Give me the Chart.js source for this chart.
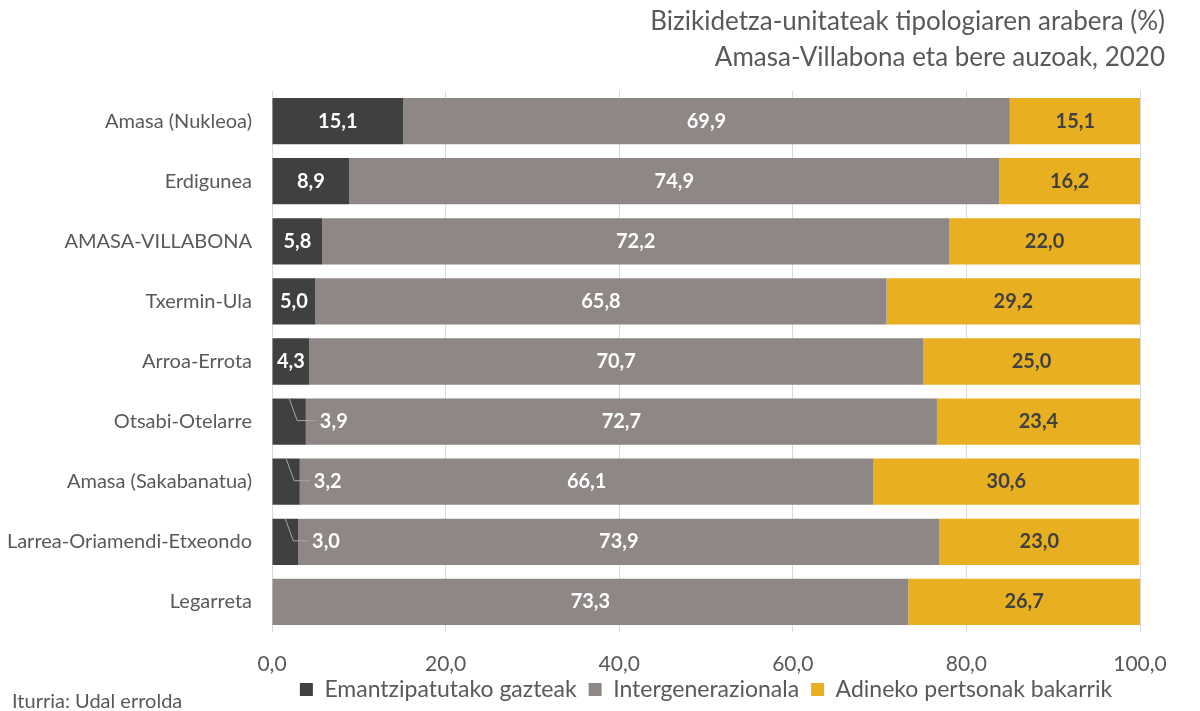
<!DOCTYPE html>
<html>
<head>
<meta charset="utf-8">
<script src="https://cdn.jsdelivr.net/npm/chart.js@4"></script>
<style>
  html, body { margin: 0; padding: 0; background: #fff; }
  #wrap { width: 1200px; height: 711px; position: relative; }
</style>
</head>
<body>
<div id="wrap"><canvas id="myChart" width="1200" height="711"></canvas></div>
<script>
// auzoak
const labels = [
  'Amasa (Nukleoa)',
  'Erdigunea',
  'AMASA-VILLABONA',
  'Txermin-Ula',
  'Arroa-Errota',
  'Otsabi-Otelarre',
  'Amasa (Sakabanatua)',
  'Larrea-Oriamendi-Etxeondo',
  'Legarreta'
];
// datuak (%)
const gazteak = [15.1, 8.9, 5.8, 5.0, 4.3, 3.9, 3.2, 3.0, 0];
const intergen = [69.9, 74.9, 72.2, 65.8, 70.7, 72.7, 66.1, 73.9, 73.3];
const adineko = [15.1, 16.2, 22.0, 29.2, 25.0, 23.4, 30.6, 23.0, 26.7];
const xTicks = [0, 20, 40, 60, 80, 100];
const titleLines = ['Bizikidetza-unitateak tipologiaren arabera (%)', 'Amasa-Villabona eta bere auzoak, 2020'];

const FONT = 'Lato';
const GREY_TXT = '#595959';
const fmt = v => v.toFixed(1).replace('.', ',');

// balioak barren barruan marraztu
const valueLabels = {
  id: 'valueLabels',
  afterDatasetsDraw(chart) {
    const ctx = chart.ctx;
    ctx.save();
    ctx.font = 'bold 20px ' + FONT;
    ctx.textBaseline = 'middle';
    chart.data.datasets.forEach((ds, di) => {
      const meta = chart.getDatasetMeta(di);
      meta.data.forEach((bar, i) => {
        const v = ds.data[i];
        if (!v) return;
        const left = bar.base, right = bar.x;
        const txt = fmt(v);
        const w = ctx.measureText(txt).width;
        ctx.fillStyle = ds.labelColor;
        if (right - left < w + 6) {
          // txikiegia: kanpoan, lerro gidariarekin
          const top = bar.y - bar.height / 2;
          const lx = right + 12;
          ctx.strokeStyle = '#a6a6a6';
          ctx.lineWidth = 1;
          ctx.beginPath();
          ctx.moveTo((left + right) / 2, top);
          ctx.lineTo((left + right) / 2 + 8, bar.y - 1);
          ctx.lineTo(lx - 2, bar.y - 1);
          ctx.stroke();
          ctx.textAlign = 'left';
          ctx.fillText(txt, lx + 2, bar.y);
        } else {
          ctx.textAlign = 'center';
          ctx.fillText(txt, (left + right) / 2, bar.y);
        }
      });
    });
    ctx.restore();
  }
};

// izenburua eta iturria
const extraText = {
  id: 'extraText',
  afterLayout(chart) {
    // x ardatzeko etiketak ez mozteko
    chart.scales.x.bottom = chart.height;
  },
  afterDraw(chart) {
    const ctx = chart.ctx;
    ctx.save();
    ctx.fillStyle = GREY_TXT;
    ctx.textBaseline = 'middle';
    ctx.font = '26px ' + FONT;
    ctx.textAlign = 'right';
    ctx.fillText(titleLines[0], 1165, 22);
    ctx.fillText(titleLines[1], 1165, 58);
    ctx.font = '20px ' + FONT;
    ctx.textAlign = 'left';
    ctx.fillText('Iturria: Udal errolda', 12, 702);
    ctx.restore();
  }
};

const data = {
  labels,
  datasets: [
    { label: 'Emantzipatutako gazteak', data: gazteak, backgroundColor: '#404040', labelColor: '#ffffff' },
    { label: 'Intergenerazionala', data: intergen, backgroundColor: '#8f8686', labelColor: '#ffffff' },
    { label: 'Adineko pertsonak bakarrik', data: adineko, backgroundColor: '#e8b020', labelColor: '#404040' }
  ]
};

const config = {
  type: 'bar',
  data,
  plugins: [valueLabels, extraText],
  options: {
    responsive: false,
    animation: false,
    indexAxis: 'y',
    datasets: {
      bar: { barPercentage: 0.77, categoryPercentage: 1, borderWidth: 0 }
    },
    layout: { padding: { left: 0, right: 60, top: 91, bottom: 0 } },
    scales: {
      x: {
        stacked: true,
        min: 0,
        max: 100,
        afterBuildTicks: s => { s.ticks = xTicks.map(v => ({ value: v })); },
        afterFit: s => { s.height = 34; },
        grid: { color: '#d9d9d9', drawTicks: false },
        border: { display: false },
        ticks: {
          color: GREY_TXT,
          font: { family: FONT, size: 21 },
          padding: 20,
          callback: v => fmt(v)
        }
      },
      y: {
        stacked: true,
        grid: { display: false, drawTicks: false },
        border: { display: false },
        afterFit: s => { s.width = 272; },
        ticks: {
          color: GREY_TXT,
          font: { family: FONT, size: 20 },
          padding: 20
        }
      }
    },
    plugins: {
      title: { display: false },
      legend: {
        position: 'bottom',
        fullSize: false,
        labels: {
          color: GREY_TXT,
          font: { family: FONT, size: 23 },
          boxWidth: 13,
          boxHeight: 13,
          padding: 12
        }
      },
      tooltip: { enabled: false }
    }
  }
};

var myChart = new Chart(document.getElementById('myChart'), config);
</script>
</body>
</html>
